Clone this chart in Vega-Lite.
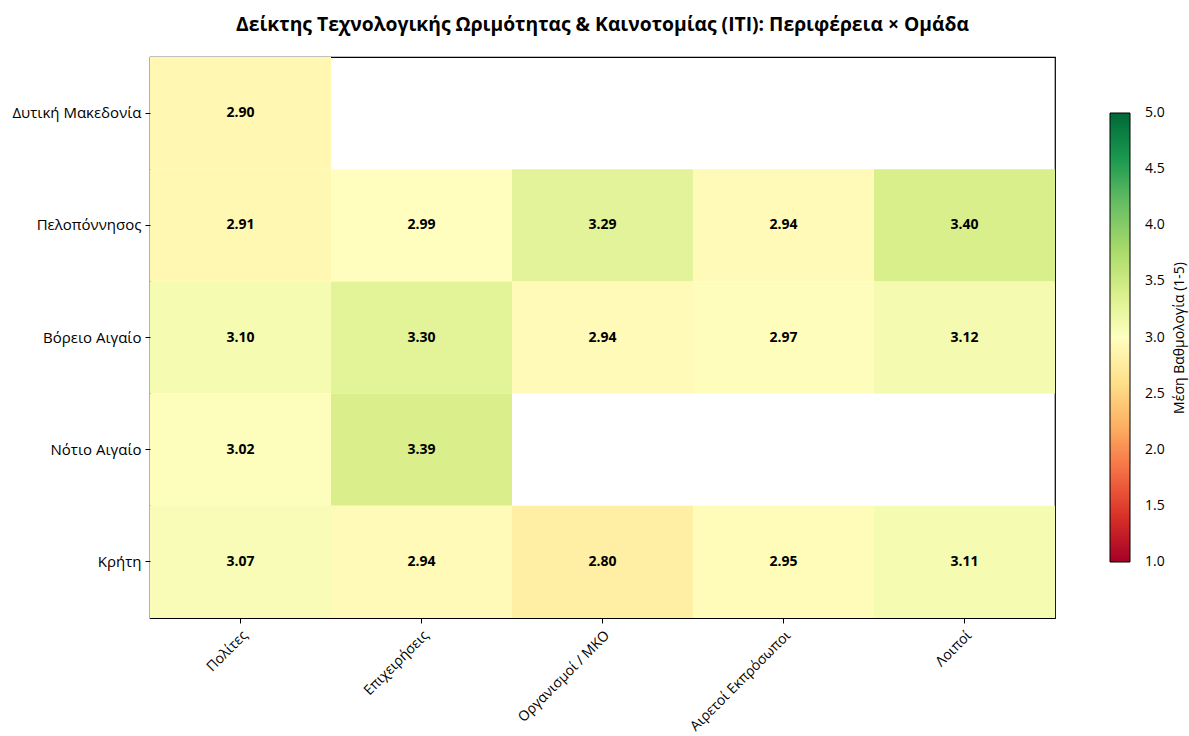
{
  "$schema": "https://vega.github.io/schema/vega-lite/v6.json",
  "autosize": "none",
  "width": 905,
  "height": 561,
  "padding": {"left": 150, "top": 57, "right": 134, "bottom": 118},
  "background": "white",
  "title": {"text": "Δείκτης Τεχνολογικής Ωριμότητας & Καινοτομίας (ITI): Περιφέρεια × Ομάδα", "font": "Open Sans", "fontSize": 19.3, "fontWeight": "bold", "color": "black", "offset": 22, "anchor": "middle"},
  "config": {"view": {"stroke": "black", "strokeWidth": 1.2}, "font": "Open Sans"},
  "data": {"values": [
    {"region": "Δυτική Μακεδονία", "group": "Πολίτες", "score": 2.90},
    {"region": "Πελοπόννησος", "group": "Πολίτες", "score": 2.91},
    {"region": "Πελοπόννησος", "group": "Επιχειρήσεις", "score": 2.99},
    {"region": "Πελοπόννησος", "group": "Οργανισμοί / ΜΚΟ", "score": 3.29},
    {"region": "Πελοπόννησος", "group": "Αιρετοί Εκπρόσωποι", "score": 2.94},
    {"region": "Πελοπόννησος", "group": "Λοιποί", "score": 3.40},
    {"region": "Βόρειο Αιγαίο", "group": "Πολίτες", "score": 3.10},
    {"region": "Βόρειο Αιγαίο", "group": "Επιχειρήσεις", "score": 3.30},
    {"region": "Βόρειο Αιγαίο", "group": "Οργανισμοί / ΜΚΟ", "score": 2.94},
    {"region": "Βόρειο Αιγαίο", "group": "Αιρετοί Εκπρόσωποι", "score": 2.97},
    {"region": "Βόρειο Αιγαίο", "group": "Λοιποί", "score": 3.12},
    {"region": "Νότιο Αιγαίο", "group": "Πολίτες", "score": 3.02},
    {"region": "Νότιο Αιγαίο", "group": "Επιχειρήσεις", "score": 3.39},
    {"region": "Κρήτη", "group": "Πολίτες", "score": 3.07},
    {"region": "Κρήτη", "group": "Επιχειρήσεις", "score": 2.94},
    {"region": "Κρήτη", "group": "Οργανισμοί / ΜΚΟ", "score": 2.80},
    {"region": "Κρήτη", "group": "Αιρετοί Εκπρόσωποι", "score": 2.95},
    {"region": "Κρήτη", "group": "Λοιποί", "score": 3.11}
  ]},
  "encoding": {
    "x": {"field": "group", "type": "nominal", "sort": ["Πολίτες", "Επιχειρήσεις", "Οργανισμοί / ΜΚΟ", "Αιρετοί Εκπρόσωποι", "Λοιποί"],
      "scale": {"paddingInner": 0, "paddingOuter": 0},
      "axis": {"title": null, "labelAngle": -45, "labelAlign": "right", "labelBaseline": "top", "labelFontSize": 14, "labelColor": "black", "labelFont": "Open Sans", "domain": false, "tickColor": "black", "tickSize": 5, "labelPadding": 5}},
    "y": {"field": "region", "type": "nominal", "sort": ["Δυτική Μακεδονία", "Πελοπόννησος", "Βόρειο Αιγαίο", "Νότιο Αιγαίο", "Κρήτη"],
      "scale": {"paddingInner": 0, "paddingOuter": 0},
      "axis": {"title": null, "labelFontSize": 15, "labelColor": "black", "labelFont": "Open Sans", "domain": false, "tickColor": "black", "tickSize": 5, "labelPadding": 4}}
  },
  "layer": [
    {"mark": {"type": "rect"},
     "encoding": {"color": {"field": "score", "type": "quantitative",
       "scale": {"domain": [1, 1.4, 1.8, 2.2, 2.6, 3, 3.4, 3.8, 4.2, 4.6, 5], "range": ["#a50026", "#d73027", "#f46d43", "#fdae61", "#fee08b", "#ffffbf", "#d9ef8b", "#a6d96a", "#66bd63", "#1a9850", "#006837"], "interpolate": "rgb"},
       "legend": {"title": "Μέση Βαθμολογία (1-5)", "orient": "none", "legendX": 960, "legendY": 56, "direction": "vertical", "gradientLength": 449, "gradientThickness": 20, "gradientStrokeColor": "black", "gradientStrokeWidth": 1, "values": [1, 1.5, 2, 2.5, 3, 3.5, 4, 4.5, 5], "format": ".1f", "labelFontSize": 14, "labelColor": "black", "labelFont": "Open Sans", "labelOffset": 15, "labelOverlap": false, "titleOrient": "right", "titleFontSize": 14, "titleFontWeight": "normal", "titleColor": "black", "titleFont": "Open Sans", "titleAnchor": "middle", "titlePadding": 6,
         "encode": {"title": {"update": {"angle": {"value": -90}, "dy": {"value": 16}}}, "labels": {"update": {"baseline": {"value": "middle"}}}}}}}},
    {"mark": {"type": "text", "fontWeight": "bold", "fontSize": 14, "color": "black", "font": "Open Sans"},
     "encoding": {"text": {"field": "score", "type": "quantitative", "format": ".2f"}}}
  ]
}
